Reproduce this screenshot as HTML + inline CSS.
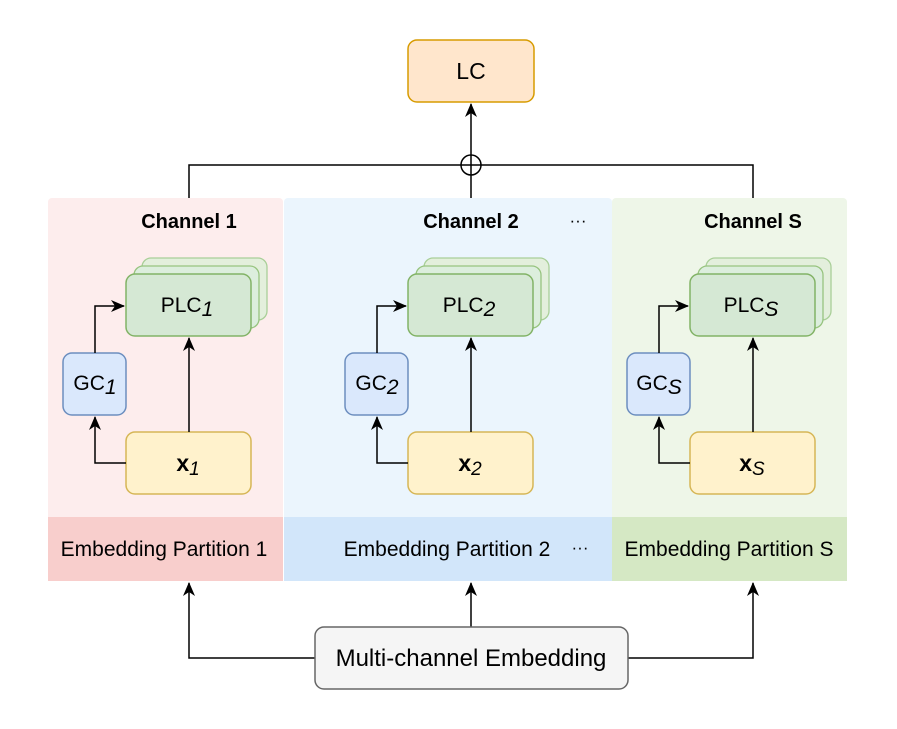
<!DOCTYPE html>
<html><head><meta charset="utf-8"><style>
html,body{margin:0;padding:0;background:#fff;}
svg{display:block;}
text{font-family:"Liberation Sans",Arial,sans-serif;fill:#000;}
</style></head><body>
<svg width="897" height="729" viewBox="0 0 897 729" xmlns="http://www.w3.org/2000/svg">
<defs>
<marker id="a" markerWidth="14" markerHeight="12" refX="13" refY="6" orient="auto" markerUnits="userSpaceOnUse">
<path d="M0,0 L14,6 L0,12 L4,6 Z" fill="#000"/>
</marker>
<g id="ch">
  <rect x="142" y="258" width="125" height="62" rx="9" fill="#e3efdc" stroke="#a9cf98" stroke-width="1.3"/>
  <rect x="134" y="266" width="125" height="62" rx="9" fill="#dceedd" stroke="#97c47f" stroke-width="1.3"/>
  <rect x="126" y="274" width="125" height="62" rx="9" fill="#d5e8d4" stroke="#82b366" stroke-width="1.5"/>
  <rect x="63" y="353" width="63" height="62" rx="9" fill="#dae8fc" stroke="#6c8ebf" stroke-width="1.5"/>
  <rect x="126" y="432" width="125" height="62" rx="9" fill="#fff2cc" stroke="#d6b656" stroke-width="1.5"/>
  <path d="M95,353 V306 H124" fill="none" stroke="#000" stroke-width="1.5" marker-end="url(#a)"/>
  <path d="M126,463 H95 V417" fill="none" stroke="#000" stroke-width="1.5" marker-end="url(#a)"/>
  <path d="M189,432 V338" fill="none" stroke="#000" stroke-width="1.5" marker-end="url(#a)"/>
</g>
</defs>

<rect x="48" y="198" width="235" height="383" rx="4" fill="#fdeded"/>
<rect x="48" y="517" width="235" height="64" fill="#f8cecc"/>
<rect x="284" y="198" width="328" height="383" rx="4" fill="#ebf5fd"/>
<rect x="284" y="517" width="328" height="64" fill="#d2e6fa"/>
<rect x="612" y="198" width="235" height="383" rx="4" fill="#eef6e8"/>
<rect x="612" y="517" width="235" height="64" fill="#d5e8c4"/>

<path d="M189,198 V165 H753 V198" fill="none" stroke="#000" stroke-width="1.5"/>
<path d="M471,198 V104" fill="none" stroke="#000" stroke-width="1.5" marker-end="url(#a)"/>
<circle cx="471" cy="165" r="10" fill="none" stroke="#000" stroke-width="1.5"/>

<rect x="408" y="40" width="126" height="62" rx="9" fill="#ffe6cc" stroke="#d79b00" stroke-width="1.5"/>
<text x="471" y="79" font-size="23" text-anchor="middle">LC</text>

<use href="#ch"/>
<use href="#ch" x="282"/>
<use href="#ch" x="564"/>

<text x="189" y="228" font-size="20" font-weight="bold" text-anchor="middle">Channel 1</text>
<text x="471" y="228" font-size="20" font-weight="bold" text-anchor="middle">Channel 2</text>
<text x="753" y="228" font-size="20" font-weight="bold" text-anchor="middle">Channel S</text>
<text x="578" y="226" font-size="17" text-anchor="middle">···</text>

<text x="187" y="312" font-size="21" text-anchor="middle">PLC<tspan font-style="italic" dy="4">1</tspan></text>
<text x="469" y="312" font-size="21" text-anchor="middle">PLC<tspan font-style="italic" dy="4">2</tspan></text>
<text x="751" y="312" font-size="21" text-anchor="middle">PLC<tspan font-style="italic" dy="4">S</tspan></text>

<text x="95" y="390" font-size="21" text-anchor="middle">GC<tspan font-style="italic" dy="4">1</tspan></text>
<text x="377" y="390" font-size="21" text-anchor="middle">GC<tspan font-style="italic" dy="4">2</tspan></text>
<text x="659" y="390" font-size="21" text-anchor="middle">GC<tspan font-style="italic" dy="4">S</tspan></text>

<text x="188" y="471" font-size="23" font-weight="bold" text-anchor="middle">x<tspan font-weight="normal" font-style="italic" font-size="19" dy="4">1</tspan></text>
<text x="470" y="471" font-size="23" font-weight="bold" text-anchor="middle">x<tspan font-weight="normal" font-style="italic" font-size="19" dy="4">2</tspan></text>
<text x="752" y="471" font-size="23" font-weight="bold" text-anchor="middle">x<tspan font-weight="normal" font-style="italic" font-size="19" dy="4">S</tspan></text>

<text x="164" y="556" font-size="21" text-anchor="middle">Embedding Partition 1</text>
<text x="447" y="556" font-size="21" text-anchor="middle">Embedding Partition 2</text>
<text x="580" y="553" font-size="17" text-anchor="middle">···</text>
<text x="729" y="556" font-size="21" text-anchor="middle">Embedding Partition S</text>

<path d="M315,658 H189 V583" fill="none" stroke="#000" stroke-width="1.5" marker-end="url(#a)"/>
<path d="M471,627 V583" fill="none" stroke="#000" stroke-width="1.5" marker-end="url(#a)"/>
<path d="M628,658 H753 V583" fill="none" stroke="#000" stroke-width="1.5" marker-end="url(#a)"/>

<rect x="315" y="627" width="313" height="62" rx="9" fill="#f5f5f5" stroke="#666" stroke-width="1.5"/>
<text x="471" y="666" font-size="24" text-anchor="middle">Multi-channel Embedding</text>
</svg>
</body></html>
